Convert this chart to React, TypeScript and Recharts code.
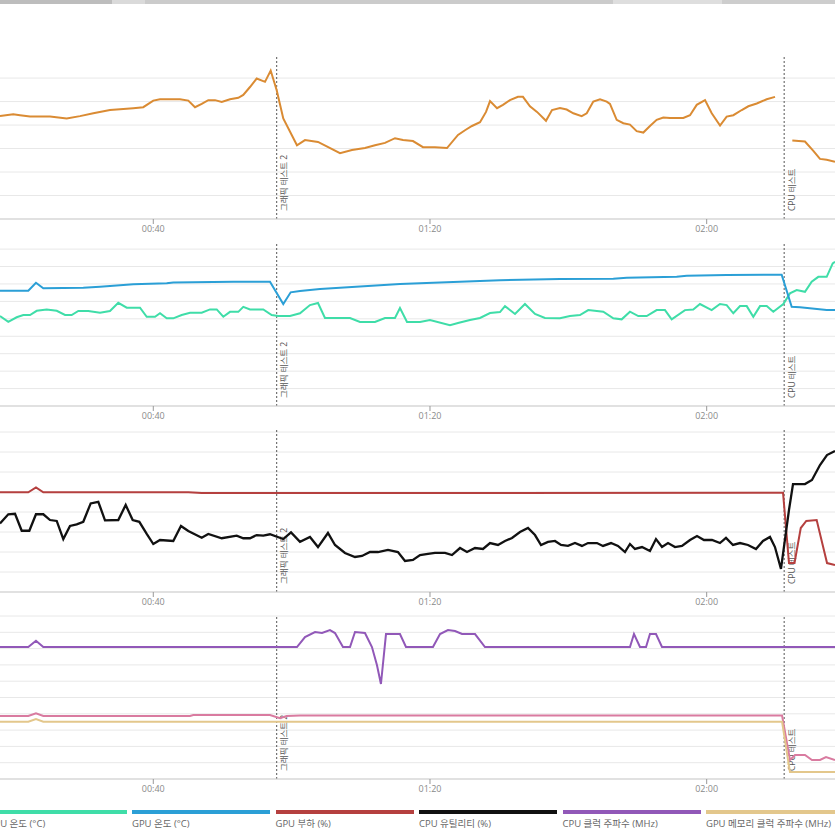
import React from "react";
import { LineChart, Line, XAxis, YAxis, CartesianGrid, ReferenceLine } from "recharts";

type Pt = [number, number | null];

// time axis (seconds)
const TIME_DOMAIN: [number, number] = [17.84, 138.55];
const TIME_TICKS = [40, 80, 120];
const EVENT_TIMES = [57.84, 131.2];
const EVENT_LABELS = ["그래픽 테스트 2", "CPU 테스트"];

const SERIES_NAMES = [
  "CPU 패키지 전력 (W)",
  "CPU 온도 (°C)",
  "GPU 온도 (°C)",
  "GPU 부하 (%)",
  "CPU 유틸리티 (%)",
  "CPU 클럭 주파수 (MHz)",
  "GPU 메모리 클럭 주파수 (MHz)",
  "GPU 클럭 주파수 (MHz)",
];
const SERIES_COLORS = ["#DA8B33", "#3FDDA8", "#2B9FD6", "#B5403F", "#111111", "#9158B8", "#E3C78C", "#D97BA0"];

const cpuPower: Pt[] = [
  [17.84, 61.9], [19.76, 62.3], [20.73, 62.1], [22.18, 61.8], [25.07, 61.8], [27.48, 61.4], [29.4, 61.9],
  [31.33, 62.5], [33.74, 63.2], [34.71, 63.3], [37.11, 63.6], [38.55, 63.8], [40.0, 65.2], [40.97, 65.5],
  [43.86, 65.5], [45.06, 65.2], [46.03, 63.8], [47.0, 64.5], [47.95, 65.3], [48.92, 65.3], [49.89, 64.9],
  [51.09, 65.5], [52.29, 65.8], [53.01, 66.4], [53.98, 68.1], [54.95, 69.9], [56.15, 69.2], [56.97, 71.6],
  [57.84, 67.4], [58.79, 61.4], [60.77, 55.7], [61.93, 56.8], [63.81, 56.4], [66.99, 54.0], [68.72, 54.7],
  [70.6, 55.1], [72.05, 55.7], [73.5, 56.2], [74.94, 57.2], [76.1, 56.8], [77.54, 56.6], [78.99, 55.3],
  [80.72, 55.3], [82.46, 55.1], [84.05, 57.9], [85.06, 58.9], [86.07, 59.8], [87.23, 60.6], [88.1, 62.8],
  [88.68, 65.1], [89.69, 63.6], [90.55, 64.3], [91.56, 65.3], [92.72, 66.0], [93.44, 66.0], [94.45, 64.0],
  [95.47, 62.8], [96.77, 60.9], [97.64, 63.2], [98.79, 63.6], [99.76, 63.3], [100.72, 62.5], [101.93, 61.9],
  [102.66, 62.5], [103.61, 65.0], [104.58, 65.5], [105.55, 65.0], [106.02, 64.5], [106.99, 61.1],
  [107.95, 60.4], [108.91, 60.1], [109.88, 58.7], [110.84, 58.4], [111.8, 59.8], [112.77, 61.1],
  [113.73, 61.6], [114.7, 61.5], [116.62, 61.5], [117.59, 62.1], [118.56, 64.3], [119.76, 65.3],
  [120.73, 62.5], [121.93, 59.9], [122.89, 61.8], [123.85, 62.1], [125.07, 63.2], [126.02, 64.0],
  [127.24, 64.6], [128.68, 65.5], [129.88, 66.0], [131.0, null], [132.38, 56.7], [134.21, 56.5],
  [135.42, 54.5], [136.38, 52.8], [137.35, 52.6], [138.55, 52.2],
];

const cpuTemp: Pt[] = [
  [17.84, 51.6], [19.04, 48.3], [20.25, 50.9], [21.21, 52.2], [22.18, 52.2], [23.15, 54.6], [24.59, 55.4],
  [26.04, 54.6], [27.24, 52.2], [28.2, 52.2], [29.16, 54.5], [30.6, 54.5], [32.3, 53.5], [33.74, 54.5],
  [34.94, 59.2], [36.16, 56.4], [38.08, 56.4], [39.05, 51.2], [40.25, 51.2], [40.97, 53.2], [41.94, 50.3],
  [42.89, 50.3], [44.11, 52.2], [45.31, 53.5], [47.0, 53.5], [48.2, 55.4], [49.17, 55.4], [50.12, 51.2],
  [51.09, 54.0], [52.29, 54.0], [53.01, 56.9], [53.98, 55.4], [55.9, 55.4], [57.12, 52.2], [58.07, 51.6],
  [59.76, 51.6], [61.21, 53.2], [62.65, 57.9], [63.81, 59.1], [64.82, 50.5], [66.27, 50.5], [68.44, 50.5],
  [69.88, 48.2], [72.05, 48.2], [73.5, 50.5], [74.94, 50.5], [75.66, 56.2], [76.68, 48.2], [78.56, 48.2],
  [80.0, 49.3], [82.89, 46.4], [84.05, 47.6], [85.78, 49.3], [87.23, 50.5], [88.68, 53.3], [90.12, 53.9],
  [90.84, 57.3], [92.29, 52.8], [93.73, 58.5], [95.18, 52.8], [96.62, 50.5], [98.79, 50.3], [100.24, 51.6],
  [101.68, 52.2], [102.88, 55.0], [105.05, 54.1], [106.5, 50.3], [107.71, 49.7], [108.91, 54.1],
  [110.11, 51.6], [111.33, 51.6], [112.77, 55.0], [113.97, 55.0], [114.94, 49.7], [116.86, 55.0],
  [118.06, 55.4], [119.03, 58.5], [120.72, 55.0], [121.92, 58.5], [122.89, 57.9], [123.85, 53.2],
  [124.82, 57.3], [125.79, 57.3], [126.74, 51.2], [127.71, 57.3], [128.68, 57.3], [129.63, 54.1],
  [131.08, 58.5], [132.04, 64.6], [133.01, 66.5], [134.21, 65.5], [135.18, 71.3], [136.14, 74.1],
  [137.35, 74.1], [138.22, 81.8], [138.55, 82.7],
];

const gpuTemp: Pt[] = [
  [17.84, 66.1], [21.93, 66.1], [23.04, 70.7], [24.1, 67.5], [29.88, 67.8], [32.3, 68.4], [37.11, 69.8],
  [41.94, 70.4], [42.89, 70.9], [51.57, 71.3], [56.87, 71.3], [58.79, 58.5], [59.86, 65.2], [61.21, 65.9],
  [64.1, 67.1], [75.66, 70.0], [90.12, 72.2], [98.79, 72.8], [106.5, 73.0], [108.44, 73.6], [115.66, 74.1],
  [117.11, 74.7], [122.89, 75.1], [130.84, 75.3], [132.29, 56.9], [133.49, 56.6], [137.35, 55.0],
  [138.55, 55.0],
];

const gpuLoad: Pt[] = [
  [17.84, 62.3], [21.93, 62.3], [23.04, 65.4], [24.1, 62.3], [45.06, 62.3], [47.0, 61.9], [131.04, 62.0],
  [131.9, 18.1], [132.7, 18.1], [133.6, 40.0], [134.4, 44.4], [135.9, 45.0], [136.7, 30.6], [137.4, 18.1],
  [138.55, 16.9],
];

const cpuUtil: Pt[] = [
  [17.84, 42.9], [19.04, 48.6], [20.01, 48.9], [20.98, 38.3], [22.08, 38.3], [23.04, 48.6], [24.1, 48.6],
  [25.07, 45.0], [26.04, 44.4], [26.99, 33.1], [27.96, 41.3], [28.93, 42.3], [29.88, 43.9], [30.95, 55.4],
  [32.05, 56.4], [33.02, 44.8], [34.94, 45.0], [36.01, 54.4], [37.02, 45.0], [37.98, 43.9], [39.05, 36.3],
  [40.0, 30.0], [40.97, 32.5], [42.89, 31.9], [44.0, 41.3], [45.06, 38.1], [47.0, 33.9], [47.95, 36.3],
  [49.89, 33.6], [52.06, 35.2], [53.01, 33.6], [53.98, 33.6], [54.95, 35.6], [55.9, 35.2], [56.87, 36.1],
  [58.79, 33.1], [59.91, 37.3], [61.21, 31.4], [62.65, 34.4], [63.81, 28.1], [65.25, 36.9], [66.27, 29.4],
  [67.71, 24.4], [69.16, 21.9], [70.17, 22.5], [71.33, 25.0], [72.48, 25.0], [73.93, 26.3], [75.37, 25.0],
  [76.39, 19.4], [77.54, 20.0], [78.56, 23.1], [79.71, 23.8], [80.72, 24.4], [82.17, 24.4], [83.18, 23.1],
  [84.34, 27.5], [85.35, 25.0], [86.51, 27.5], [87.66, 26.9], [88.68, 30.6], [89.83, 29.4], [90.84, 31.9],
  [91.86, 33.8], [93.01, 37.5], [94.17, 40.0], [95.18, 35.6], [96.05, 29.4], [97.06, 31.3], [98.07, 31.9],
  [98.94, 29.4], [99.95, 28.8], [100.96, 30.6], [101.97, 28.8], [102.84, 30.6], [104.14, 30.6],
  [105.01, 28.8], [106.17, 30.6], [107.18, 28.8], [108.19, 25.0], [108.91, 30.0], [109.63, 26.9],
  [110.65, 28.1], [111.8, 25.6], [112.67, 33.1], [113.54, 28.1], [114.41, 30.6], [115.42, 28.1],
  [116.43, 28.8], [117.59, 32.5], [118.6, 35.0], [119.61, 32.5], [120.77, 32.5], [121.92, 30.6],
  [122.79, 33.8], [123.8, 29.4], [124.82, 30.6], [125.97, 29.4], [127.13, 26.9], [128.14, 31.9],
  [129.15, 34.4], [129.87, 28.1], [130.74, 14.4], [131.9, 51.3], [132.48, 67.5], [134.21, 67.5],
  [135.22, 70.0], [136.38, 79.4], [137.39, 85.6], [138.55, 88.1],
];

const cpuClock: Pt[] = [
  [17.84, 4048], [21.93, 4048], [23.04, 4242], [24.1, 4048], [60.77, 4048], [61.93, 4355], [63.38, 4508],
  [64.39, 4478], [65.54, 4570], [66.27, 4478], [67.42, 4048], [68.44, 4048], [69.16, 4508], [70.6, 4478],
  [71.61, 4048], [72.33, 3496], [72.91, 2914], [73.64, 4447], [75.66, 4447], [76.53, 4048], [80.43, 4048],
  [81.45, 4447], [82.6, 4570], [83.62, 4540], [84.63, 4447], [86.51, 4447], [87.95, 4048], [108.91, 4048],
  [109.49, 4447], [110.36, 4048], [111.23, 4048], [111.8, 4447], [112.67, 4447], [113.54, 4048],
  [138.55, 4048],
];

const gpuMemClock: Pt[] = [
  [17.84, 1757], [21.93, 1757], [23.04, 1840], [24.1, 1757], [130.9, 1757], [132.04, 215], [138.55, 215],
];

const gpuClock: Pt[] = [
  [17.84, 1932], [21.93, 1932], [23.04, 2015], [24.1, 1932], [45.31, 1932], [45.78, 1963], [56.87, 1963],
  [58.32, 1862], [59.28, 1932], [61.21, 1947], [130.9, 1947], [132.04, 583], [132.77, 736], [134.21, 736],
  [135.22, 583], [136.38, 583], [137.25, 675], [138.55, 583],
];

const SERIES_DATA: Pt[][] = [cpuPower, cpuTemp, gpuTemp, gpuLoad, cpuUtil, cpuClock, gpuMemClock, gpuClock];

const PANELS = [
  { top: 56, domain: [40, 74.7], ticks: [40, 45, 50, 55, 60, 65, 70], series: [0] },
  { top: 243, domain: [0, 93.5], ticks: [0, 10, 20, 30, 40, 50, 60, 70, 80, 90], series: [1, 2] },
  { top: 429, domain: [0, 101.9], ticks: [0, 12.5, 25, 37.5, 50, 62.5, 75, 87.5, 100], series: [3, 4] },
  { top: 616, domain: [0, 5000], ticks: [0, 500, 1000, 1500, 2000, 2500, 3000, 3500, 4000, 4500, 5000], series: [5, 7, 6] },
];

const FONT = "'Open Sans', 'Noto Sans CJK KR', 'Noto Sans', sans-serif";

const fmt = (s: number) => {
  const m = Math.floor(s / 60);
  const sec = Math.round(s % 60);
  return `${String(m).padStart(2, "0")}:${String(sec).padStart(2, "0")}`;
};

const toRows = (pts: Pt[]) => pts.map(([t, v]) => ({ t, v }));

const EventLabel = (props: any) => {
  const vb = props.viewBox || {};
  const x = (vb.x ?? 0) + 7;
  const y = (vb.y ?? 0) + (vb.height ?? 0) - 8;
  return (
    <text
      x={x}
      y={y}
      transform={`rotate(-90 ${x} ${y})`}
      fontSize={8.5}
      fill="#555"
      textAnchor="start"
      dominantBaseline="central"
      style={{ fontFamily: FONT }}
    >
      {props.text}
    </text>
  );
};

// maps the panel's tick values onto grid rows using the chart's own y scale / plot offset
const gridRows = (p: (typeof PANELS)[number]) => (args: any) => {
  const s = args?.yAxis?.scale;
  if (typeof s === "function") return p.ticks.map((v) => s(v));
  if (s && typeof s.map === "function") return p.ticks.map((v) => s.map(v));
  const off = args?.offset;
  if (!off) return [];
  const [d0, d1] = p.domain;
  return p.ticks.map((v) => off.top + off.height * (1 - (v - d0) / (d1 - d0)));
};

const Panel = ({ p }: { p: (typeof PANELS)[number] }) => (
  <div style={{ position: "absolute", left: 0, top: p.top - 10 }}>
    <LineChart width={835} height={198} margin={{ top: 10, right: 0, bottom: 0, left: 0 }}>
      <CartesianGrid vertical={false} stroke="#e8e8e8" horizontalCoordinatesGenerator={gridRows(p)} />
      <XAxis
        type="number"
        dataKey="t"
        domain={TIME_DOMAIN}
        allowDataOverflow
        ticks={TIME_TICKS}
        interval={0}
        tickFormatter={fmt}
        height={25}
        tickSize={5}
        tick={{ fontSize: 9, fill: "#8a8a8a", fontFamily: FONT }}
        axisLine={{ stroke: "#cfcfcf" }}
        tickLine={{ stroke: "#999" }}
      />
      <YAxis hide domain={p.domain as [number, number]} ticks={p.ticks} allowDataOverflow />
      {EVENT_TIMES.map((t, i) => (
        <ReferenceLine
          key={i}
          x={t}
          stroke="#555"
          strokeWidth={1}
          strokeDasharray="2 2"
          label={<EventLabel text={EVENT_LABELS[i]} />}
        />
      ))}
      {p.series.map((i) => (
        <Line
          key={i}
          data={toRows(SERIES_DATA[i])}
          dataKey="v"
          name={SERIES_NAMES[i]}
          type="linear"
          stroke={SERIES_COLORS[i]}
          strokeWidth={i === 4 ? 2.3 : 2}
          dot={false}
          connectNulls={false}
          isAnimationActive={false}
        />
      ))}
    </LineChart>
  </div>
);

const LEGEND_START = -155;
const LEGEND_STEP = 143.5;

export default function App() {
  return (
    <div
      style={{
        position: "absolute",
        left: 0,
        top: 0,
        width: 835,
        height: 835,
        overflow: "hidden",
        background: "#fff",
        fontFamily: FONT,
      }}
    >
      <div
        style={{
          position: "absolute",
          left: 0,
          top: 0,
          width: 835,
          height: 4,
          background:
            "linear-gradient(to right, #bdbdbd 0px, #bdbdbd 112px, #dadada 112px, #dadada 145px, #cbcbcb 145px, #cbcbcb 613px, #dedede 613px, #dedede 722px, #cdcdcd 722px)",
        }}
      />
      {PANELS.map((p, k) => (
        <Panel key={k} p={p} />
      ))}
      <div style={{ position: "absolute", left: 0, top: 810, width: 835, height: 25 }}>
        {SERIES_NAMES.map((n, i) => (
          <div
            key={i}
            style={{ position: "absolute", left: LEGEND_START + i * LEGEND_STEP, top: 0, width: 138 }}
          >
            <div style={{ height: 4, background: SERIES_COLORS[i] }} />
            <div
              style={{
                fontSize: 9.5,
                lineHeight: "13px",
                color: "#666",
                marginTop: 3,
                whiteSpace: "nowrap",
              }}
            >
              {n}
            </div>
          </div>
        ))}
      </div>
    </div>
  );
}
